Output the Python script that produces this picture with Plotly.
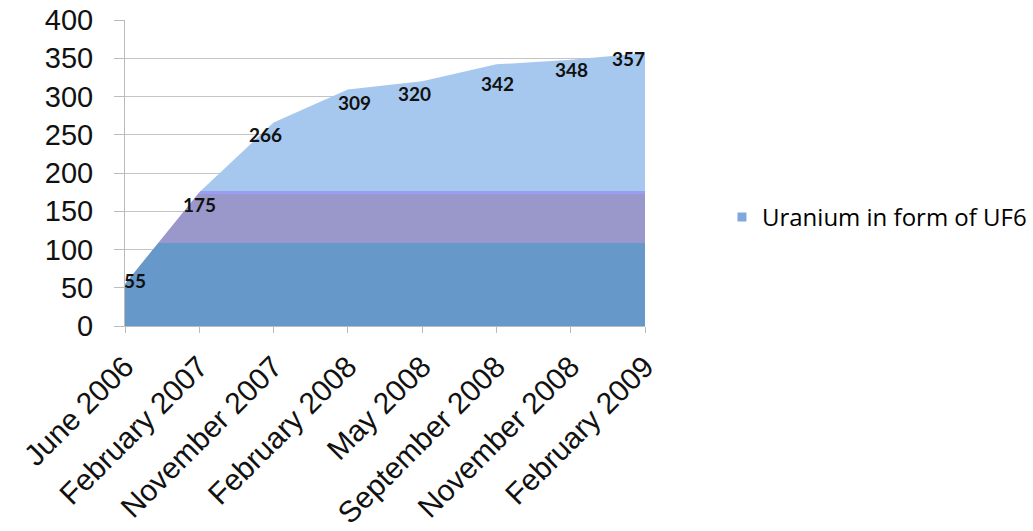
import plotly.graph_objects as go

categories = ["June 2006", "February 2007", "November 2007", "February 2008",
              "May 2008", "September 2008", "November 2008", "February 2009"]
values = [55, 175, 266, 309, 320, 342, 348, 357]
y_ticks = [0, 50, 100, 150, 200, 250, 300, 350, 400]
series_name = "Uranium in form of UF6"

# pixel offsets of the data labels relative to their points (style only)
label_dx = [10, 0, -8, 7, -8, 1, 1, -17]
label_dy = [3, -12, -12, -13, -12, -19, -10, -6]

c_dark = "#6698CA"
c_purple = "#9A98CB"
c_edge = "#9C9CF4"
c_light = "#A6C8EE"
b1 = 109 / 400
b2 = 172 / 400
b3 = 176 / 400

xs = list(range(len(categories)))

fig = go.Figure()
fig.add_trace(go.Scatter(
    x=xs,
    y=values,
    mode="lines",
    line=dict(width=0, color=c_light),
    fill="tozeroy",
    fillgradient=dict(
        type="vertical", start=0, stop=400,
        colorscale=[[0, c_dark], [b1, c_dark], [b1, c_purple], [b2, c_purple],
                    [b2, c_edge], [b3, c_edge], [b3, c_light], [1, c_light]],
    ),
    name=series_name,
    showlegend=False,
    hoverinfo="x+y",
))
# legend entry (small square swatch as in the reference)
fig.add_trace(go.Scatter(
    x=[None], y=[None], mode="markers",
    marker=dict(symbol="square", size=9, color="#80A8DC"),
    name=series_name, showlegend=True,
))

for xi, v, dx, dy in zip(xs, values, label_dx, label_dy):
    fig.add_annotation(
        x=xi, y=v, text=str(v), showarrow=False,
        xshift=dx, yshift=dy,
        font=dict(family="Lato", size=19, color="#111111", weight="bold"),
    )

fig.update_layout(
    width=1033, height=531,
    margin=dict(l=125, r=388, t=20, b=205, autoexpand=False),
    paper_bgcolor="white", plot_bgcolor="white",
    showlegend=True,
    legend=dict(x=1.148, y=0.355, xanchor="left", yanchor="middle",
                font=dict(family="Open Sans", size=24, color="#000000"),
                itemwidth=30, bgcolor="rgba(0,0,0,0)"),
    xaxis=dict(
        range=[0, len(categories) - 1],
        tickmode="array",
        tickvals=xs,
        ticktext=categories,
        tickangle=-45,
        tickfont=dict(family="Liberation Sans", size=30, color="#111111"),
        ticks="outside", ticklen=6, tickcolor="#BBBBBB",
        showgrid=False, showline=True, linecolor="#BBBBBB",
        zeroline=False, automargin=False,
        ticklabelstandoff=4,
    ),
    yaxis=dict(
        range=[0, 400],
        tickmode="array",
        tickvals=y_ticks,
        tickfont=dict(family="Liberation Sans", size=29, color="#111111"),
        ticks="outside", ticklen=10, tickcolor="#BBBBBB",
        showgrid=True, gridcolor="#C4C4C4", gridwidth=1,
        showline=True, linecolor="#BBBBBB",
        zeroline=False, automargin=False,
        ticklabelstandoff=15,
    ),
)

fig.write_html("out.html")
